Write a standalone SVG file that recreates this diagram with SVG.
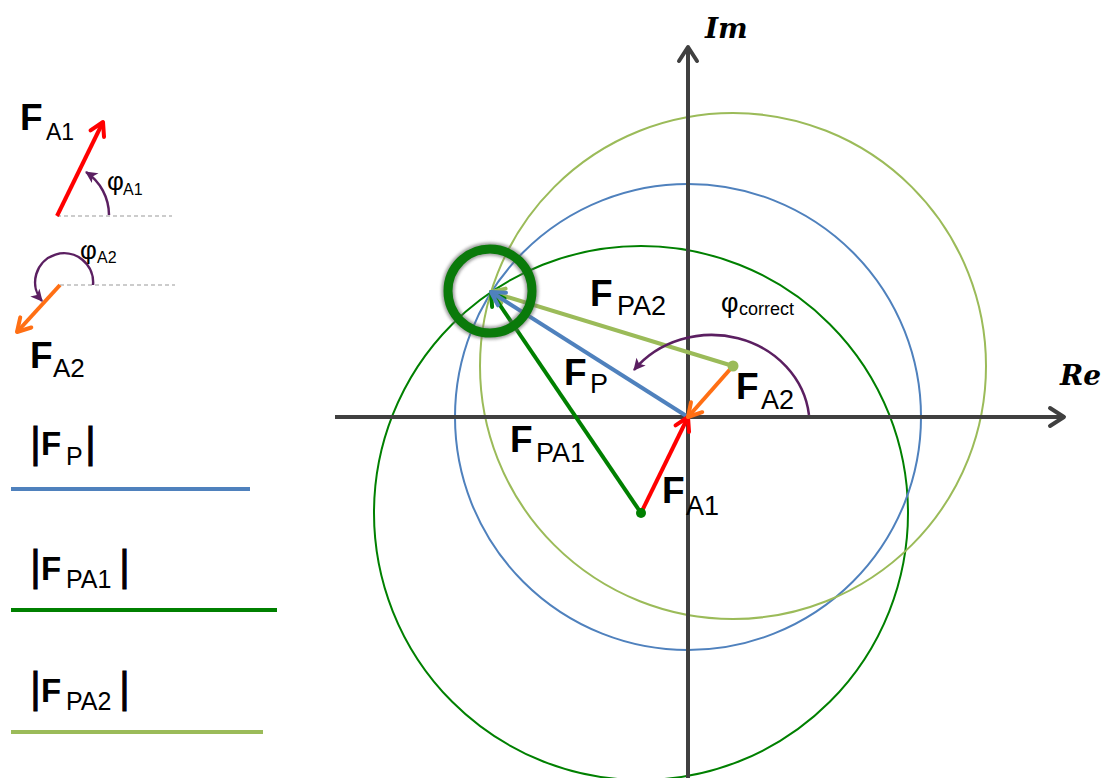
<svg xmlns="http://www.w3.org/2000/svg" width="1102" height="778" viewBox="0 0 1102 778">
<style>
.F{font-family:"Liberation Sans",Arial,sans-serif;font-weight:bold;fill:#000}
.s{font-family:"Liberation Sans",Arial,sans-serif;font-weight:normal;fill:#000}
.bar{font-family:"Liberation Sans",Arial,sans-serif;font-size:42px;fill:#000;stroke:#000;stroke-width:0.8}
.ax{font-family:"DejaVu Serif",serif;font-style:italic;font-weight:bold;font-size:28px;fill:#000}
.circ{fill:none;stroke-width:2}
.vec{fill:none;stroke-width:4}
.arc{fill:none;stroke:#5b1f61;stroke-width:2.5}
.dash{stroke:#999;stroke-width:1.2;stroke-dasharray:4 3}
</style>
<defs>
<marker id="m-red" viewBox="0 0 20 20" refX="17" refY="10" markerWidth="20" markerHeight="20" markerUnits="userSpaceOnUse" orient="auto"><path d="M4,2.5 L17,10 L4,17.5" fill="none" stroke="#ff0000" stroke-width="4" stroke-linecap="round" stroke-linejoin="round"/></marker>
<marker id="m-org" viewBox="0 0 20 20" refX="17" refY="10" markerWidth="20" markerHeight="20" markerUnits="userSpaceOnUse" orient="auto"><path d="M4,2.5 L17,10 L4,17.5" fill="none" stroke="#ff6f14" stroke-width="4" stroke-linecap="round" stroke-linejoin="round"/></marker>
<marker id="m-blue" viewBox="0 0 20 20" refX="17" refY="10" markerWidth="20" markerHeight="20" markerUnits="userSpaceOnUse" orient="auto"><path d="M4,2.5 L17,10 L4,17.5" fill="none" stroke="#4f81bd" stroke-width="4" stroke-linecap="round" stroke-linejoin="round"/></marker>
<marker id="m-dg" viewBox="0 0 20 20" refX="17" refY="10" markerWidth="20" markerHeight="20" markerUnits="userSpaceOnUse" orient="auto"><path d="M4,2.5 L17,10 L4,17.5" fill="none" stroke="#008000" stroke-width="4" stroke-linecap="round" stroke-linejoin="round"/></marker>
<marker id="m-lg" viewBox="0 0 20 20" refX="17" refY="10" markerWidth="20" markerHeight="20" markerUnits="userSpaceOnUse" orient="auto"><path d="M4,2.5 L17,10 L4,17.5" fill="none" stroke="#9bbb59" stroke-width="4" stroke-linecap="round" stroke-linejoin="round"/></marker>
<marker id="m-ax" viewBox="0 0 24 24" refX="20" refY="12" markerWidth="24" markerHeight="24" markerUnits="userSpaceOnUse" orient="auto"><path d="M6,3 L20,12 L6,21" fill="none" stroke="#404040" stroke-width="4" stroke-linecap="round" stroke-linejoin="round"/></marker>
<marker id="m-pur" viewBox="0 0 14 14" refX="12" refY="7" markerWidth="14" markerHeight="14" markerUnits="userSpaceOnUse" orient="auto"><path d="M1,1 L13,7 L1,13 L4,7 Z" fill="#5b1f61"/></marker>
<filter id="blur" x="-20%" y="-20%" width="140%" height="140%"><feGaussianBlur stdDeviation="1.6"/></filter>
</defs>

<g id="circles">
<circle id="circle-FPA1" class="circ" cx="641" cy="513" r="267" stroke="#008000"/>
<circle id="circle-FP" class="circ" cx="688" cy="417" r="233" stroke="#4f81bd"/>
<circle id="circle-FPA2" class="circ" cx="733" cy="366" r="253" stroke="#9bbb59"/>
</g>

<g id="axes">
<line x1="688" y1="778" x2="688" y2="47" stroke="#404040" stroke-width="4" marker-end="url(#m-ax)"/>
<line x1="335" y1="417" x2="1064" y2="417" stroke="#404040" stroke-width="4" marker-end="url(#m-ax)"/>
<text class="ax" x="705" y="38">Im</text>
<text class="ax" x="1060" y="385">Re</text>
</g>

<g id="connectors">
<line class="vec" x1="733" y1="366" x2="491" y2="292" stroke="#9bbb59" marker-end="url(#m-lg)"/>
<line class="vec" x1="641" y1="513" x2="491" y2="292" stroke="#008000" marker-end="url(#m-dg)"/>
<line class="vec" x1="688" y1="417" x2="491" y2="292" stroke="#4f81bd" marker-end="url(#m-blue)"/>
<line class="vec" x1="641" y1="513" x2="688" y2="417" stroke="#ff0000" marker-end="url(#m-red)"/>
<line class="vec" x1="733" y1="366" x2="688" y2="417" stroke="#ff6f14" marker-end="url(#m-org)"/>
<path class="arc" d="M809,415 A98,90 0 0 0 634,370" marker-end="url(#m-pur)"/>
</g>

<g id="dots">
<circle cx="641" cy="513" r="5" fill="#008000"/>
<circle cx="733" cy="366" r="5.5" fill="#9bbb59"/>
</g>

<g id="ring">
<circle cx="490" cy="291" r="42" fill="none" stroke="#666" stroke-width="13" opacity="0.6" filter="url(#blur)"/>
<circle cx="490" cy="291" r="42" fill="none" stroke="#0a7a0a" stroke-width="9"/>
</g>

<g id="labels">
<text class="F" x="590" y="306" font-size="37">F</text>
<text class="s" x="617" y="315" font-size="27">PA2</text>
<text class="s" x="721" y="312" font-size="27">φ</text>
<text class="s" x="739" y="315" font-size="18">correct</text>
<text class="F" x="564" y="385" font-size="37">F</text>
<text class="s" x="590" y="393" font-size="27">P</text>
<text class="F" x="736" y="399" font-size="37">F</text>
<text class="s" x="761" y="409" font-size="27">A2</text>
<text class="F" x="510" y="452" font-size="37">F</text>
<text class="s" x="536" y="462" font-size="27">PA1</text>
<text class="F" x="662" y="503" font-size="37">F</text>
<text class="s" x="686" y="515" font-size="27">A1</text>
</g>

<g id="legend-angles">
<line class="dash" x1="57" y1="216" x2="172" y2="216"/>
<line class="dash" x1="60" y1="285" x2="175" y2="285"/>
<line class="vec" x1="57" y1="216" x2="103" y2="122" stroke="#ff0000" marker-end="url(#m-red)"/>
<line class="vec" x1="60" y1="285" x2="17" y2="332" stroke="#ff6f14" marker-end="url(#m-org)"/>
<path class="arc" d="M109,215 A52,52 0 0 0 86,172" marker-end="url(#m-pur)"/>
<path class="arc" d="M93,285 A29,29 0 1 0 42,301" marker-end="url(#m-pur)"/>
<text class="F" x="20" y="130" font-size="37">F</text>
<text class="s" x="46" y="140" font-size="23">A1</text>
<text class="F" x="30" y="368" font-size="37">F</text>
<text class="s" x="53" y="377" font-size="26">A2</text>
<text class="s" x="107" y="190" font-size="26">φ</text>
<text class="s" x="123" y="195" font-size="16">A1</text>
<text class="s" x="80" y="259" font-size="26">φ</text>
<text class="s" x="97" y="263" font-size="16">A2</text>
</g>

<g id="legend-FP">
<text class="bar" x="30" y="457">|</text>
<text class="F" x="41" y="455" font-size="33">F</text>
<text class="s" x="66" y="465" font-size="25">P</text>
<text class="bar" x="85" y="457">|</text>
<line x1="11" y1="489" x2="250" y2="489" stroke="#4f81bd" stroke-width="4"/>
</g>
<g id="legend-FPA1">
<text class="bar" x="30" y="580">|</text>
<text class="F" x="41" y="580" font-size="33">F</text>
<text class="s" x="66" y="588" font-size="25">PA1</text>
<text class="bar" x="119" y="580">|</text>
<line x1="11" y1="610" x2="277" y2="610" stroke="#008000" stroke-width="4"/>
</g>
<g id="legend-FPA2">
<text class="bar" x="30" y="702">|</text>
<text class="F" x="41" y="702" font-size="33">F</text>
<text class="s" x="66" y="710" font-size="25">PA2</text>
<text class="bar" x="119" y="702">|</text>
<line x1="11" y1="732" x2="263" y2="732" stroke="#9bbb59" stroke-width="4"/>
</g>
</svg>
